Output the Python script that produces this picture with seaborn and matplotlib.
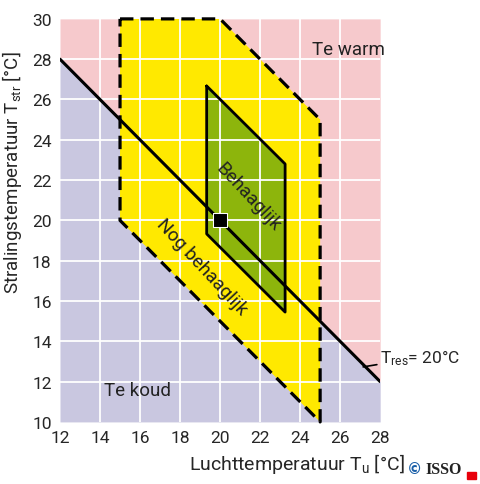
import numpy as np
import pandas as pd
import matplotlib.pyplot as plt
import seaborn as sns

# ==========================================
# Data
# ==========================================
line_x = [12, 28]            # luchttemperatuur
line_y = [28, 12]            # T_res = 20 °C
acceptable_x = [15, 20, 25, 25, 15]      # nog behaaglijk
acceptable_y = [30, 30, 25, 10, 20]
comfort_x = [19.33, 23.25, 23.25, 19.33]  # behaaglijk
comfort_y = [26.67, 22.8, 15.45, 19.33]
point_x = [20]
point_y = [20]
ticks_x = list(range(12, 29, 2))
ticks_y = list(range(10, 31, 2))

PINK = '#f6c9cc'
LAVENDER = '#c9c7e0'
YELLOW = '#ffe900'
GREEN = '#8db50c'

sns.set_style('white')
plt.rcParams['font.family'] = ['Roboto', 'DejaVu Sans']
plt.rcParams['mathtext.fontset'] = 'custom'
plt.rcParams['mathtext.rm'] = 'Roboto'
plt.rcParams['mathtext.it'] = 'Roboto'

fig = plt.figure(figsize=(4.8, 4.85), dpi=100)
ax = fig.add_axes([0.125, 0.128, 0.667, 0.831])

# achtergrond
ax.fill_between(line_x, line_y, 30, color=PINK, lw=0, zorder=0)
ax.fill_between(line_x, 10, line_y, color=LAVENDER, lw=0, zorder=0)

# zones
ax.fill(acceptable_x, acceptable_y, color=YELLOW, lw=0, zorder=1)
ax.fill(comfort_x, comfort_y, color=GREEN, lw=0, zorder=1.2)

# grid boven de vlakken
for t in ticks_x[1:-1]:
    ax.axvline(t, color='white', lw=1.3, zorder=1.5)
for t in ticks_y[1:-1]:
    ax.axhline(t, color='white', lw=1.3, zorder=1.5)

# omlijningen
ax.plot(acceptable_x + acceptable_x[:1], acceptable_y + acceptable_y[:1], color='black',
        lw=2.3, ls=(0, (4.2, 2.2)), zorder=3, clip_on=False, solid_joinstyle='round')
ax.plot(comfort_x + comfort_x[:1], comfort_y + comfort_y[:1], color='black', lw=2, zorder=3)

df_line = pd.DataFrame({'x': line_x, 'y': line_y})
sns.lineplot(data=df_line, x='x', y='y', color='black', lw=2.2, ax=ax, zorder=4)
sns.scatterplot(x=point_x, y=point_y, marker='s', s=90, color='black', ax=ax, zorder=5)

# teksten
ax.text(24.6, 28.5, 'Te warm', fontsize=13.5, color='#222222', va='center')
ax.text(14.2, 11.6, 'Te koud', fontsize=13.5, color='#222222', va='center')
ax.text(21.4, 21.2, 'Behaaglijk', fontsize=13.5, rotation=-47, ha='center', va='center',
        color='#222222', rotation_mode='anchor')
ax.text(19.1, 17.7, 'Nog behaaglijk', fontsize=13.5, rotation=-47, ha='center', va='center',
        color='#222222', rotation_mode='anchor')
ax.annotate(r'T$_{\mathrm{res}}$= 20°C', xy=(27.15, 12.73), xytext=(28.0, 13.2),
            fontsize=12.5, va='center', annotation_clip=False,
            arrowprops=dict(arrowstyle='-', color='black', lw=1.2, shrinkA=0, shrinkB=0))

ax.set_xlim(12, 28)
ax.set_ylim(10, 30)
ax.set_xticks(ticks_x)
ax.set_yticks(ticks_y)
ax.tick_params(labelsize=12.5, length=0, pad=6)
for s in ax.spines.values():
    s.set_visible(False)
ax.set_xlabel(r'Luchttemperatuur T$_{\mathrm{u}}$ [°C]', fontsize=14)
ax.set_ylabel(r'Stralingstemperatuur T$_{\mathrm{str}}$ [°C]', fontsize=13.5)
ax.xaxis.set_label_coords(0.74, -0.072)
ax.yaxis.set_label_coords(-0.112, 0.62)

fig.text(0.848, 0.022, '©', color='#1a5fa8', fontsize=11, fontweight='bold', family='DejaVu Sans')
fig.text(0.887, 0.022, 'ISSO', color='#222222', fontsize=11.5, fontweight='bold', family='Liberation Serif')
fig.patches.append(plt.Rectangle((0.973, 0.0103), 0.019, 0.0145, color='#e8000b', transform=fig.transFigure))

plt.savefig('out.png', dpi=100)
